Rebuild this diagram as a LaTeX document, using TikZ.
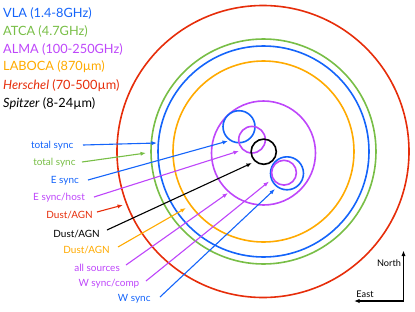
\documentclass[tikz,border=0pt]{standalone}
\usepackage{fontspec}
\setmainfont{Lato}
\usetikzlibrary{arrows.meta}
\definecolor{cblue}{RGB}{20,100,250}
\definecolor{cgreen}{RGB}{120,190,70}
\definecolor{cpurple}{RGB}{190,70,250}
\definecolor{corange}{RGB}{255,170,0}
\definecolor{cred}{RGB}{230,45,10}
\tikzset{
  ring/.style={line width=1.6bp},
  pointer/.style={line width=1.1bp,-{Latex[length=5.5bp,width=4.2bp]}},
  legend/.style={anchor=west,inner sep=0pt,font=\fontsize{12.8}{14}\selectfont},
  lab/.style={anchor=east,inner sep=0pt,font=\fontsize{10}{12}\selectfont},
  compasslab/.style={inner sep=0pt,font=\fontsize{9.2}{11}\selectfont},
}
\begin{document}
\begin{tikzpicture}[x=1bp,y=-1bp]
\useasboundingbox (0,0) rectangle (415,312);
% legend
\node[legend,text=cblue] (l1) at (3,13) {VLA (1.4-8GHz)};
\node[legend,text=cgreen] (l2) at (3,31) {ATCA (4.7GHz)};
\node[legend,text=cpurple] (l3) at (3,49) {ALMA (100-250GHz)};
\node[legend,text=corange] (l4) at (3,67) {LABOCA (870µm)};
\node[legend,text=cred] (l5) at (3,85.5) {\textit{Herschel} (70-500µm)};
\node[legend,text=black] (l6) at (3,104) {\textit{Spitzer} (8-24µm)};
% big rings
\draw[ring,cred] (263,151.5) circle[radius=146];
\draw[ring,cgreen] (263.5,151.5) circle[radius=112.5];
\draw[ring,cblue] (263.5,151.5) circle[radius=105.5];
\draw[ring,corange] (263.5,151.5) circle[radius=90.5];
\draw[ring,cpurple] (263.5,153) circle[radius=52];
% small rings
\draw[ring,cblue] (239,126.7) circle[radius=16];
\draw[ring,cpurple] (252,139.7) circle[radius=13.3];
\draw[ring,black] (263.7,151.7) circle[radius=12.6];
\draw[ring,cblue] (287,173.3) circle[radius=16.5];
\draw[ring,cpurple] (284,172.7) circle[radius=12.4];
% labels
\node[lab,text=cblue] (a1) at (73.5,145.5) {total sync};
\node[lab,text=cgreen] (a2) at (75.7,162.5) {total sync};
\node[lab,text=cblue] (a3) at (79,180.5) {E sync};
\node[lab,text=cpurple] (a4) at (85,198) {E sync/host};
\node[lab,text=cred] (a5) at (93,215) {Dust/AGN};
\node[lab,text=black] (a6) at (100,234) {Dust/AGN};
\node[lab,text=corange] (a7) at (110,250.5) {Dust/AGN};
\node[lab,text=cpurple] (a8) at (120,268) {all sources};
\node[lab,text=cpurple] (a9) at (139.5,283.5) {W sync/comp};
\node[lab,text=cblue] (a10) at (150.7,298.5) {W sync};
% targets
\coordinate (t1) at (157,143);
\coordinate (t2) at (146,153);
\coordinate (t3) at (228,141);
\coordinate (t4) at (239,151);
\coordinate (t5) at (123,205);
\coordinate (t6) at (252,163);
\coordinate (t7) at (186,208);
\coordinate (t8) at (228,193);
\coordinate (t9) at (269,181.5);
\coordinate (t10) at (275,189);
\draw[pointer,cblue] ([shift={(9.5,-0.5)}]a1.east) -- (t1);
\draw[pointer,cgreen] ([shift={(6.3,-0.5)}]a2.east) -- (t2);
\draw[pointer,cblue] ([shift={(9,-0.5)}]a3.east) -- (t3);
\draw[pointer,cpurple] ([shift={(9,-1)}]a4.east) -- (t4);
\draw[pointer,cred] ([shift={(4,-3)}]a5.east) -- (t5);
\draw[pointer,black] ([shift={(7,-4)}]a6.east) -- (t6);
\draw[pointer,corange] ([shift={(8,-3.5)}]a7.east) -- (t7);
\draw[pointer,cpurple] ([shift={(6,-3)}]a8.east) -- (t8);
\draw[pointer,cpurple] ([shift={(6.5,-2.5)}]a9.east) -- (t9);
\draw[pointer,cblue] ([shift={(9.3,-1.5)}]a10.east) -- (t10);
% compass
\coordinate (corner) at (403.5,301);
\coordinate (ntip) at (403.5,250.5);
\coordinate (etip) at (354,301);
\draw[line width=1.1bp,-{Latex[length=5.5bp,width=4.2bp]}] (corner) -- (ntip);
\draw[line width=1.1bp,-{Latex[length=5.5bp,width=4.2bp]}] (corner) -- (etip);
\node[compasslab] (north) at (389,263.5) {North};
\node[compasslab] (east) at (365,294) {East};
\end{tikzpicture}
\end{document}
